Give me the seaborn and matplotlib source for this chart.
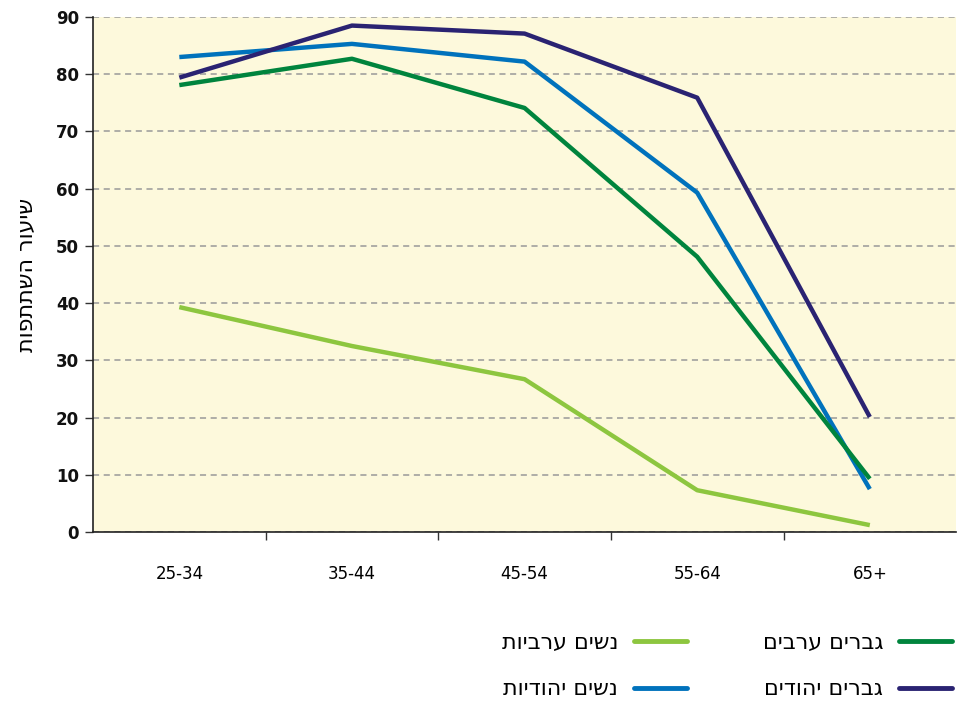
import matplotlib
matplotlib.use("Agg")
import matplotlib.pyplot as plt
import seaborn as sns
import pandas as pd
from matplotlib.ticker import FixedLocator
from matplotlib.lines import Line2D

age_groups = ["25-34", "35-44", "45-54", "55-64", "65+"]
arab_men = [78.1, 82.7, 74.1, 48.1, 9.3]
jewish_men = [79.4, 88.5, 87.1, 75.9, 20.1]
jewish_women = [83.0, 85.3, 82.2, 59.3, 7.5]
arab_women = [39.3, 32.5, 26.7, 7.3, 1.2]

series_names = ["נשים ערביות", "נשים יהודיות", "גברים ערבים", "גברים יהודים"]
series_values = [arab_women, jewish_women, arab_men, jewish_men]
colors = ["#8DC63F", "#0072BC", "#00843D", "#2A2372"]
y_label = "שיעור השתתפות"

def heb(s):
    return s[::-1]

rows = []
for name, vals in zip(series_names, series_values):
    for i, v in enumerate(vals):
        rows.append({"x": i, "value": v, "series": heb(name)})
df = pd.DataFrame(rows)

sns.set_theme(style="white")
plt.rcParams["font.family"] = ["DejaVu Sans"]

fig = plt.figure(figsize=(9.59, 7.08), dpi=100)
ax = fig.add_axes([0.097, 0.2486, 0.9, 0.7274])
ax.set_facecolor("#FDF9DC")

pal = {heb(n): c for n, c in zip(series_names, colors)}
sns.lineplot(data=df, x="x", y="value", hue="series", palette=pal,
             hue_order=[heb(n) for n in series_names], linewidth=3.2,
             ax=ax, legend=False, sort=False)
for line in ax.lines:
    line.set_solid_capstyle("butt")

ax.set_xlim(-0.5, 4.5)
ax.set_ylim(0, 90)
ax.set_yticks(range(0, 91, 10))
ax.set_yticklabels([str(v) for v in range(0, 91, 10)], fontsize=12, fontweight="bold", color="#111111")
ax.yaxis.grid(True, linestyle=(0, (4, 3)), color="#999999", linewidth=1.1)
ax.set_axisbelow(True)

ax.set_xticks(range(5))
ax.set_xticklabels(age_groups, fontsize=12, color="#000000", fontweight="medium")
ax.xaxis.set_minor_locator(FixedLocator([0.5, 1.5, 2.5, 3.5]))
ax.tick_params(axis="x", which="major", length=0, pad=24)
ax.tick_params(axis="x", which="minor", length=6, width=1, color="#333333", direction="out", bottom=True)
ax.tick_params(axis="y", which="major", length=6, width=1, color="#333333", direction="out", left=True, pad=4)

for side in ["top", "right"]:
    ax.spines[side].set_visible(False)
for side in ["left", "bottom"]:
    ax.spines[side].set_color("#222222")
    ax.spines[side].set_linewidth(1.2)

ax.set_xlabel("")
ax.set_ylabel(heb(y_label), fontsize=16, labelpad=14, color="#000000")

handles = [Line2D([0], [0], color=c, lw=3.5, solid_capstyle="round") for c in colors]
labels = [heb(n) for n in series_names]
fig.legend(handles, labels, loc="center right", bbox_to_anchor=(0.9927, 0.0593), ncol=2,
           frameon=False, markerfirst=False, fontsize=16, handlelength=2.4,
           columnspacing=3.4, labelspacing=1.2, handletextpad=0.7,
           borderpad=0, borderaxespad=0, labelcolor="#000000")

fig.savefig("out.png", dpi=100)
